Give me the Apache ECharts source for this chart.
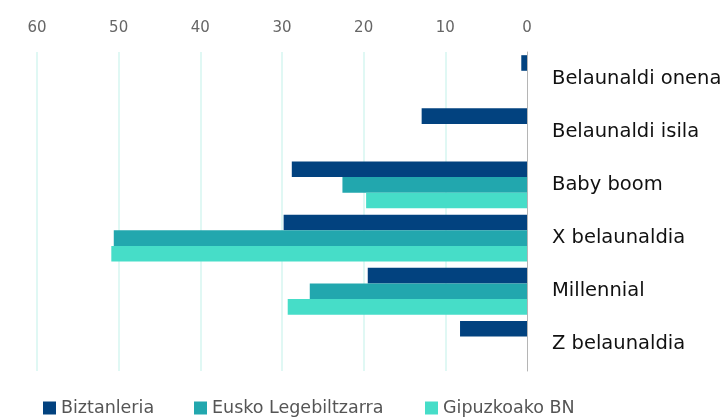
<!DOCTYPE html>
<html>
<head>
<meta charset="utf-8">
<script src="https://cdn.jsdelivr.net/npm/echarts@6/dist/echarts.min.js"></script>
<style>
  html, body { margin: 0; padding: 0; background: #fff; }
  #chart { width: 726px; height: 417px; }
</style>
</head>
<body>
<div id="chart"></div>
<script>
const categories = ["Belaunaldi onena", "Belaunaldi isila", "Baby boom", "X belaunaldia", "Millennial", "Z belaunaldia"];
const seriesNames = ["Biztanleria", "Eusko Legebiltzarra", "Gipuzkoako BN"];
const biztanleria = [0.7, 12.9, 28.8, 29.8, 19.5, 8.2];
const legebiltzarra = [0, 0, 22.6, 50.6, 26.6, 0];
const gipuzkoa = [0, 0, 19.7, 50.9, 29.3, 0];
const xTicks = [0, 10, 20, 30, 40, 50, 60];

const colors = ["#02427f", "#22a7ae", "#46ddc8"];
const font = "DejaVu Sans";

const myChart = echarts.init(document.getElementById("chart"));

const legendAt = (name, left) => ({
  data: [name],
  top: 399,
  left: left,
  padding: 0,
  icon: "rect",
  itemWidth: 13,
  itemHeight: 13,
  itemGap: 0,
  textStyle: { color: "#555", fontSize: 17.5, fontFamily: font },
});

const option = {
  animation: false,
  color: colors,
  legend: [
    legendAt(seriesNames[0], 43),
    legendAt(seriesNames[1], 194),
    legendAt(seriesNames[2], 425),
  ],
  grid: {
    left: 37,
    right: 199,
    top: 52,
    bottom: 46,
  },
  xAxis: {
    type: "value",
    position: "top",
    inverse: true,
    min: xTicks[0],
    max: xTicks[xTicks.length - 1],
    interval: 10,
    axisLine: { show: false },
    axisTick: { show: false },
    axisLabel: {
      color: "#666",
      fontSize: 15,
      fontFamily: font,
      margin: 16,
    },
    splitLine: {
      showMinLine: false,
      lineStyle: { color: "#d6f6f1", width: 1.5 },
    },
  },
  yAxis: {
    type: "category",
    position: "right",
    inverse: true,
    data: categories,
    axisLine: { show: true, lineStyle: { color: "#b5b5b5", width: 1 } },
    axisTick: { show: false },
    axisLabel: {
      color: "#111",
      fontSize: 19.5,
      fontFamily: font,
      margin: 25,
    },
  },
  series: [biztanleria, legebiltzarra, gipuzkoa].map((values, i) => ({
    name: seriesNames[i],
    type: "bar",
    data: values,
    barGap: "0%",
    barCategoryGap: "12%",
  })),
};

myChart.setOption(option);
</script>
</body>
</html>
